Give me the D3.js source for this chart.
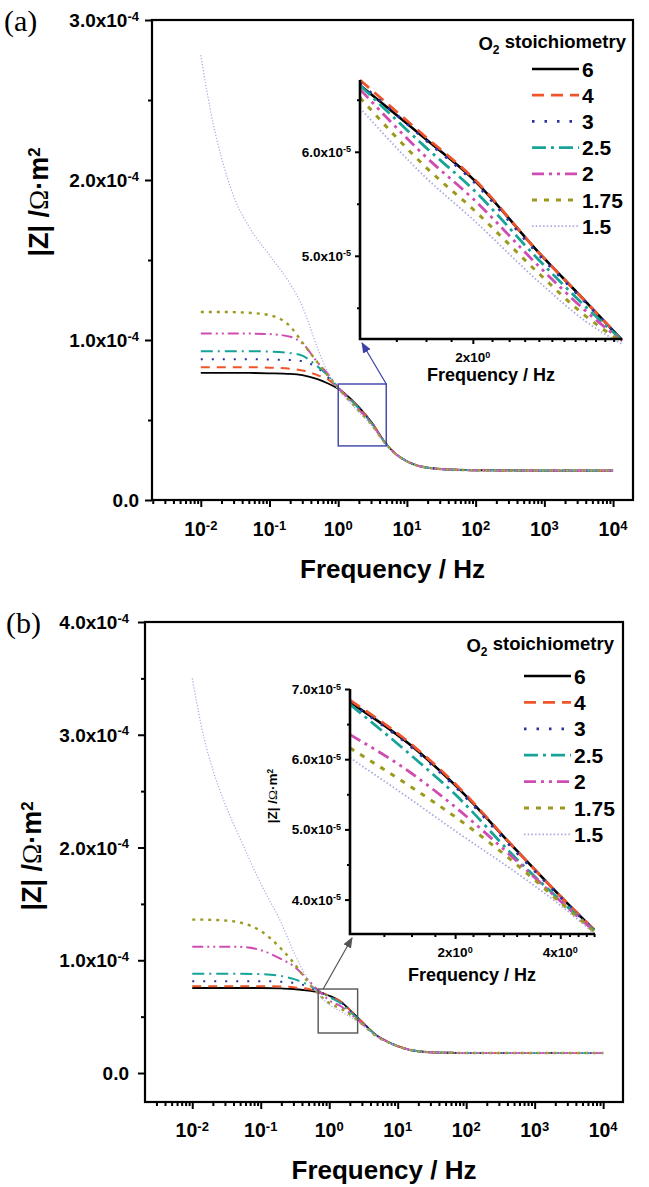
<!DOCTYPE html>
<meta charset="utf-8">
<style>
    body { margin: 0; background: #fff; }
    text { font-family: "Liberation Sans", Arial, sans-serif; font-weight: bold; fill: #000; }
    .serif { font-family: "Liberation Serif", "Times New Roman", serif; font-weight: normal; }
    .curve { fill: none; }
</style>

<body>
<script src="https://d3js.org/d3.v7.min.js"></script>
<script>

// legend entries (O2 stoichiometry), drawn in this order
var stoich = ["6", "4", "3", "2.5", "2", "1.75", "1.5"];

// frequencies of the main curves (Hz)
var freqMain = [0.01, 0.015, 0.02, 0.03, 0.05, 0.1, 0.2, 0.3, 0.5, 0.7, 1, 1.5, 2, 3, 5, 7, 10, 15, 20, 30, 50, 100, 1000, 10000];

// panel (a) |Z| in units of 1e-5 Ohm m2
var a6   = [7.94, 7.94, 7.94, 7.94, 7.94, 7.92, 7.88, 7.8, 7.55, 7.3, 6.95, 6.35, 5.8, 4.9, 3.5, 2.85, 2.42, 2.12, 2.02, 1.94, 1.89, 1.86, 1.84, 1.84];
var a4   = [8.3, 8.3, 8.3, 8.3, 8.3, 8.27, 8.2, 8.1, 7.8, 7.55, 6.98, 6.34, 5.79, 4.89, 3.5, 2.85, 2.42, 2.12, 2.02, 1.94, 1.89, 1.86, 1.84, 1.84];
var a3   = [8.8, 8.8, 8.8, 8.8, 8.8, 8.78, 8.75, 8.68, 8.25, 7.7, 7.0, 6.32, 5.77, 4.88, 3.5, 2.85, 2.42, 2.12, 2.02, 1.94, 1.89, 1.86, 1.84, 1.84];
var a25  = [9.3, 9.3, 9.3, 9.3, 9.3, 9.28, 9.18, 9.02, 8.35, 7.8, 7.02, 6.28, 5.72, 4.85, 3.49, 2.85, 2.42, 2.12, 2.02, 1.94, 1.89, 1.86, 1.84, 1.84];
var a2   = [10.4, 10.4, 10.4, 10.4, 10.4, 10.37, 10.2, 9.8, 8.6, 7.9, 7.02, 6.22, 5.65, 4.8, 3.48, 2.84, 2.42, 2.12, 2.02, 1.94, 1.89, 1.86, 1.84, 1.84];
var a175 = [11.75, 11.75, 11.75, 11.74, 11.7, 11.55, 10.85, 9.85, 8.6, 7.8, 7.0, 6.15, 5.57, 4.75, 3.46, 2.84, 2.42, 2.12, 2.02, 1.94, 1.89, 1.86, 1.84, 1.84];
var a15  = [27.8, 23.6, 21.4, 19.0, 17.1, 15.3, 13.5, 12.1, 9.5, 8.0, 6.9, 6.08, 5.5, 4.7, 3.44, 2.83, 2.41, 2.12, 2.02, 1.94, 1.89, 1.86, 1.84, 1.84];

// panel (b)
var b6   = [7.54, 7.54, 7.54, 7.54, 7.54, 7.54, 7.5, 7.45, 7.3, 7.15, 6.85, 6.3, 5.6, 4.55, 3.3, 2.8, 2.38, 2.05, 1.93, 1.84, 1.8, 1.78, 1.78, 1.78];
var b4   = [7.7, 7.7, 7.7, 7.7, 7.7, 7.7, 7.68, 7.6, 7.45, 7.2, 6.85, 6.3, 5.6, 4.55, 3.3, 2.8, 2.38, 2.05, 1.93, 1.84, 1.8, 1.78, 1.78, 1.78];
var b3   = [8.15, 8.15, 8.15, 8.15, 8.15, 8.15, 8.1, 8.0, 7.65, 7.25, 6.8, 6.25, 5.55, 4.53, 3.3, 2.8, 2.38, 2.05, 1.93, 1.84, 1.8, 1.78, 1.78, 1.78];
var b25  = [8.8, 8.8, 8.8, 8.8, 8.8, 8.77, 8.6, 8.35, 7.8, 7.3, 6.75, 6.15, 5.45, 4.5, 3.28, 2.79, 2.38, 2.05, 1.93, 1.84, 1.8, 1.78, 1.78, 1.78];
var b2   = [11.2, 11.2, 11.2, 11.2, 11.18, 10.9, 10.1, 9.5, 8.2, 7.3, 6.45, 5.9, 5.3, 4.4, 3.25, 2.78, 2.37, 2.05, 1.93, 1.84, 1.8, 1.78, 1.78, 1.78];
var b175 = [13.6, 13.6, 13.58, 13.53, 13.35, 12.6, 11.0, 9.8, 8.0, 7.0, 6.2, 5.7, 5.2, 4.35, 3.22, 2.77, 2.37, 2.05, 1.93, 1.84, 1.8, 1.78, 1.78, 1.78];
var b15  = [35.0, 29.6, 26.9, 23.9, 20.8, 16.8, 13.3, 10.8, 8.2, 7.0, 6.05, 5.45, 5.0, 4.3, 3.2, 2.76, 2.37, 2.05, 1.93, 1.84, 1.8, 1.78, 1.78, 1.78];

// inset curves (zoomed region, Hz and 1e-5 Ohm m2)
var freqInset = [1, 1.5, 2, 3, 4, 5];
var ia6   = [6.64, 6.12, 5.74, 5.03, 4.56, 4.19];
var ia4   = [6.69, 6.14, 5.75, 5.03, 4.56, 4.19];
var ia3   = [6.66, 6.11, 5.72, 5.01, 4.55, 4.19];
var ia25  = [6.64, 6.04, 5.64, 4.96, 4.51, 4.19];
var ia2   = [6.60, 5.95, 5.55, 4.90, 4.47, 4.18];
var ia175 = [6.52, 5.85, 5.45, 4.83, 4.42, 4.17];
var ia15  = [6.42, 5.75, 5.35, 4.75, 4.37, 4.15];

var ib6   = [6.81, 6.19, 5.63, 4.70, 4.05, 3.57];
var ib4   = [6.84, 6.21, 5.65, 4.70, 4.05, 3.57];
var ib3   = [6.80, 6.17, 5.61, 4.67, 4.04, 3.56];
var ib25  = [6.78, 6.05, 5.50, 4.58, 3.99, 3.56];
var ib2   = [6.35, 5.80, 5.32, 4.55, 3.98, 3.55];
var ib175 = [6.16, 5.60, 5.18, 4.50, 3.96, 3.54];
var ib15  = [6.02, 5.42, 4.98, 4.38, 3.92, 3.52];

// zoom boxes drawn on the main plots
var boxAFreq = [1, 5],      boxAZ = [3.38, 7.25];
var boxBFreq = [0.69, 2.6], boxBZ = [3.55, 7.45];

// line styles
var colors    = ["#000000", "#f0542a", "#2b30a0", "#17a398", "#cf4db2", "#9c9a1c", "#a9a9e0"];
var dashMain  = ["", "9,7", "2,9", "12,5,2,5", "11,4,2,4,2,4", "3,5", "1.2,1.8"];
var widthMain = [1.8, 2, 2, 2, 2, 2.4, 1.2];
var dashBig   = ["", "12,7", "2.5,10", "14,5,3,5", "12,5,3,5,3,5", "5,7", "1.5,2.2"];
var widthBig  = [2.6, 2.8, 2.8, 2.8, 2.8, 3, 1.8];

var seriesA = [a6, a4, a3, a25, a2, a175, a15];
var seriesB = [b6, b4, b3, b25, b2, b175, b15];
var insetA  = [ia6, ia4, ia3, ia25, ia2, ia175, ia15];
var insetB  = [ib6, ib4, ib3, ib25, ib2, ib175, ib15];

var svg = d3.select("body").append("svg")
    .attr("width", 649)
    .attr("height", 1187);
var defs = svg.append("defs");

function pairs(fr, vals) {
    return fr.map(function (f, i) { return { f: f, z: vals[i] }; });
}

function minorLog(lo, hi) {
    var out = [];
    for (var d = -3; d <= 4; d++)
        for (var k = 2; k <= 9; k++) {
            var v = k * Math.pow(10, d);
            if (v >= lo && v <= hi) out.push(v);
        }
    return out;
}

// text with a superscript tail
function supLabel(t, base, exp, supSize) {
    t.append("tspan").text(base);
    t.append("tspan").attr("dy", "-0.5em").attr("font-size", supSize).text(exp);
}

function ticks(g, axis, tf) {
    var a = g.append("g").attr("transform", tf).call(axis);
    a.select(".domain").remove();
    a.selectAll("line").attr("stroke", "#000").attr("stroke-width", 2);
    return a;
}

function yTitle(g, bx, cy, size) {
    var t = g.append("text")
        .attr("transform", "translate(" + bx + "," + cy + ") rotate(-90)")
        .attr("text-anchor", "middle").attr("font-size", size);
    t.append("tspan").text("|Z| /");
    t.append("tspan").attr("class", "serif").text("Ω");
    t.append("tspan").text("·m");
    t.append("tspan").attr("dy", "-0.5em").attr("font-size", size * 0.62).text("2");
}

function drawPanel(p) {
    var g = svg.append("g");
    var x = d3.scaleLog().domain(p.xDom).range([p.left, p.right]);
    var y = d3.scaleLinear().domain(p.yDom).range([p.bottom, p.top]);

    // panel tag
    g.append("text").attr("class", "serif").attr("x", p.tagX).attr("y", p.tagY)
        .attr("font-size", 30).text(p.tag);

    // curves
    var line = d3.line()
        .x(function (d) { return x(d.f); })
        .y(function (d) { return y(d.z); })
        .curve(d3.curveMonotoneX);
    p.series.forEach(function (s, i) {
        g.append("path").datum(pairs(freqMain, s))
            .attr("class", "curve")
            .attr("stroke", colors[i])
            .attr("stroke-width", widthMain[i])
            .attr("stroke-dasharray", dashMain[i] || null)
            .attr("d", line);
    });

    // x ticks
    var xMajor = [0.01, 0.1, 1, 10, 100, 1000, 10000];
    ticks(g, d3.axisBottom(x).tickValues(xMajor).tickSize(7).tickFormat(""), "translate(0," + p.bottom + ")");
    ticks(g, d3.axisBottom(x).tickValues(minorLog(x.domain()[0], x.domain()[1])).tickSize(4).tickFormat(""), "translate(0," + p.bottom + ")");
    xMajor.forEach(function (v) {
        var t = g.append("text").attr("x", x(v)).attr("y", p.xLabelY)
            .attr("text-anchor", "middle").attr("font-size", 19.5);
        supLabel(t, "10", String(Math.round(Math.log10(v))), 13);
    });

    // y ticks
    ticks(g, d3.axisLeft(y).tickValues(p.yMajor).tickSize(7).tickFormat(""), "translate(" + p.left + ",0)");
    ticks(g, d3.axisLeft(y).tickValues(p.yMinor).tickSize(4).tickFormat(""), "translate(" + p.left + ",0)");
    p.yMajor.forEach(function (v) {
        var t = g.append("text").attr("x", p.left - p.labelGap).attr("y", y(v) + 7)
            .attr("text-anchor", "end").attr("font-size", 19);
        if (v === 0) t.text("0.0");
        else supLabel(t, (v / 10).toFixed(1) + "x10", "-4", 13);
    });

    // frame
    g.append("rect")
        .attr("x", p.left).attr("y", p.top)
        .attr("width", p.right - p.left).attr("height", p.bottom - p.top)
        .attr("fill", "none").attr("stroke", "#000").attr("stroke-width", 2.2);

    // axis titles
    g.append("text").attr("x", (p.left + p.right) / 2).attr("y", p.xTitleY)
        .attr("text-anchor", "middle").attr("font-size", 26).text("Frequency / Hz");
    yTitle(g, p.yTitleX, p.yTitleY, 27);

    // zoom box and arrow
    var bx0 = x(p.boxF[0]), bx1 = x(p.boxF[1]), by0 = y(p.boxZ[1]), by1 = y(p.boxZ[0]);
    g.append("rect").attr("x", bx0).attr("y", by0)
        .attr("width", bx1 - bx0).attr("height", by1 - by0)
        .attr("fill", "none").attr("stroke", p.boxColor).attr("stroke-width", 1.4);

    var ins = drawInset(g, p.inset);
    defs.append("marker")
        .attr("id", p.arrowId).attr("viewBox", "0 0 10 10")
        .attr("refX", 9).attr("refY", 5)
        .attr("markerWidth", 9).attr("markerHeight", 9)
        .attr("orient", "auto")
        .append("path").attr("d", "M0,1 L10,5 L0,9 Z").attr("fill", p.boxColor);
    var ax = p.arrowFromRight ? bx1 : bx0 + 5;
    g.append("line")
        .attr("x1", ax).attr("y1", by0)
        .attr("x2", ins.x0 + 2).attr("y2", ins.y0 + 4)
        .attr("stroke", p.boxColor).attr("stroke-width", 1.2)
        .attr("marker-end", "url(#" + p.arrowId + ")");

    drawLegend(g, p.legend);
}

function drawInset(g, n) {
    var x = d3.scaleLog().domain(n.xDom).range([n.left, n.right]);
    var y = d3.scaleLinear().domain(n.yDom).range([n.bottom, n.top]);
    var line = d3.line()
        .x(function (d) { return x(d.f); })
        .y(function (d) { return y(d.z); })
        .curve(d3.curveMonotoneX);

    // white background behind the inset
    g.append("rect").attr("x", n.left).attr("y", n.top)
        .attr("width", n.right - n.left).attr("height", n.bottom - n.top).attr("fill", "#fff");

    n.series.forEach(function (s, i) {
        g.append("path").datum(pairs(freqInset, s))
            .attr("class", "curve")
            .attr("stroke", colors[i])
            .attr("stroke-width", widthBig[i])
            .attr("stroke-dasharray", dashBig[i] || null)
            .attr("d", line);
    });

    var xMinor = [];
    for (var v = 1.25; v < n.xDom[1]; v += 0.25)
        if (n.xMajor.indexOf(v) < 0) xMinor.push(v);
    ticks(g, d3.axisBottom(x).tickValues(n.xMajor).tickSize(5).tickFormat(""), "translate(0," + n.bottom + ")");
    ticks(g, d3.axisBottom(x).tickValues(xMinor).tickSize(3).tickFormat(""), "translate(0," + n.bottom + ")");
    ticks(g, d3.axisLeft(y).tickValues(n.yMajor).tickSize(5).tickFormat(""), "translate(" + n.left + ",0)");
    ticks(g, d3.axisLeft(y).tickValues(n.yMinor).tickSize(3).tickFormat(""), "translate(" + n.left + ",0)");

    n.xMajor.forEach(function (v) {
        var t = g.append("text").attr("x", x(v)).attr("y", n.xLabelY)
            .attr("text-anchor", "middle").attr("font-size", 13.5);
        supLabel(t, v + "x10", "0", 9);
    });
    n.yMajor.forEach(function (v) {
        var t = g.append("text").attr("x", n.left - 9).attr("y", y(v) + 5)
            .attr("text-anchor", "end").attr("font-size", 13.5);
        supLabel(t, v.toFixed(1) + "x10", "-5", 9);
    });

    g.append("path")
        .attr("d", "M" + n.left + "," + n.top + "V" + n.bottom + "H" + n.right)
        .attr("fill", "none").attr("stroke", "#000").attr("stroke-width", 2.6);

    g.append("text").attr("x", n.titleX).attr("y", n.titleY)
        .attr("text-anchor", "middle").attr("font-size", 18).text("Frequency / Hz");
    if (n.yTitle) yTitle(g, n.yTitle[0], n.yTitle[1], 13.5);

    return { x0: n.left, y0: n.bottom };
}

function drawLegend(g, L) {
    var t = g.append("text").attr("x", L.right).attr("y", L.titleY)
        .attr("text-anchor", "end").attr("font-size", 18.5);
    t.append("tspan").text("O");
    t.append("tspan").attr("dy", "0.35em").attr("font-size", 12).text("2");
    t.append("tspan").attr("dy", "-0.35em").text(" stoichiometry");

    stoich.forEach(function (s, i) {
        var cy = L.firstY + i * L.step;
        g.append("line")
            .attr("x1", L.x0).attr("x2", L.x1).attr("y1", cy).attr("y2", cy)
            .attr("stroke", colors[i]).attr("stroke-width", widthBig[i])
            .attr("stroke-dasharray", dashBig[i] || null);
        g.append("text").attr("x", L.x1 + 3).attr("y", cy + 7.5)
            .attr("font-size", 21).text(s);
    });
}

// panel (a)
drawPanel({
    tag: "(a)", tagX: 4, tagY: 31,
    left: 152, right: 633, top: 20, bottom: 500,
    xDom: [Math.pow(10, -2.71), Math.pow(10, 4.29)], yDom: [0, 30],
    yMajor: [0, 10, 20, 30], yMinor: [5, 15, 25],
    series: seriesA, labelGap: 13,
    xLabelY: 536, xTitleY: 578, yTitleX: 48, yTitleY: 202,
    boxF: boxAFreq, boxZ: boxAZ, boxColor: "#3a42a6", arrowFromRight: true, arrowId: "arrA",
    inset: {
        left: 360, right: 622, top: 80, bottom: 339,
        xDom: [1, 5], yDom: [4.2, 6.69], xMajor: [2], yMajor: [5, 6], yMinor: [4.5, 5.5, 6.5],
        series: insetA, xLabelY: 362, titleX: 491, titleY: 381, yTitle: null
    },
    legend: { right: 626, titleY: 50, x0: 532, x1: 579, firstY: 69, step: 26.2 }
});

// panel (b)
drawPanel({
    tag: "(b)", tagX: 6, tagY: 633,
    left: 145, right: 623, top: 622, bottom: 1102,
    xDom: [Math.pow(10, -2.69), Math.pow(10, 4.29)], yDom: [-2.57, 40],
    yMajor: [0, 10, 20, 30, 40], yMinor: [5, 15, 25, 35],
    series: seriesB, labelGap: 16,
    xLabelY: 1137, xTitleY: 1179, yTitleX: 41, yTitleY: 856,
    boxF: boxBFreq, boxZ: boxBZ, boxColor: "#555", arrowFromRight: false, arrowId: "arrB",
    inset: {
        left: 350, right: 595, top: 689, bottom: 934,
        xDom: [1, 5.03], yDom: [3.51, 7.0], xMajor: [2, 4], yMajor: [4, 5, 6, 7], yMinor: [4.5, 5.5, 6.5],
        series: insetB, xLabelY: 957, titleX: 472, titleY: 981, yTitle: [277, 796]
    },
    legend: { right: 614, titleY: 652, x0: 524, x1: 571, firstY: 676, step: 26.4 }
});

</script>
</body>
